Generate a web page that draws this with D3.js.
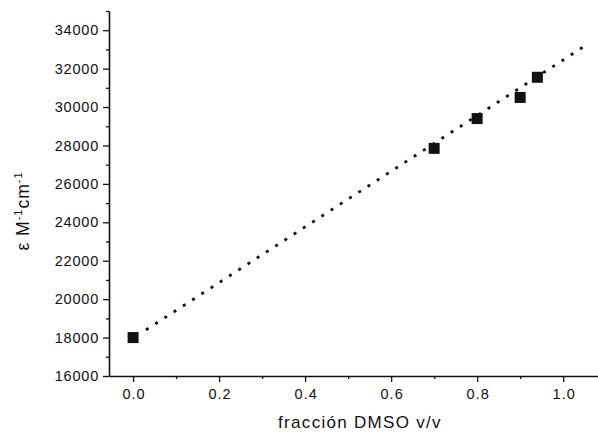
<!DOCTYPE html>
<html><head><meta charset="utf-8">
<script src="https://cdn.jsdelivr.net/npm/d3@7"></script>
<style>
html,body{margin:0;padding:0;background:#fff;}
text{font-family:"Liberation Sans",Arial,sans-serif;fill:#111;}
</style></head>
<body>
<script>
// Data
const fraction = [0.0, 0.7, 0.8, 0.9, 0.94];
const epsilon = [18000, 27850, 29400, 30500, 31550];
const fitX = [0.03, 1.055];
const fitY = [18400, 33250];
const xTicks = [0.0, 0.2, 0.4, 0.6, 0.8, 1.0];
const yTicks = [16000, 18000, 20000, 22000, 24000, 26000, 28000, 30000, 32000, 34000];
const xMinor = [0.1, 0.3, 0.5, 0.7, 0.9];
const yMinor = [17000, 19000, 21000, 23000, 25000, 27000, 29000, 31000, 33000, 35000];

const W = 598, H = 433;
const svg = d3.select("body").append("svg").attr("width", W).attr("height", H);

const x = d3.scaleLinear().domain([-0.056, 1.081]).range([109, 598]);
const y = d3.scaleLinear().domain([16000, 35000]).range([376, 11]);

// axes
const xAxis = d3.axisBottom(x).tickValues(xTicks).tickFormat(d3.format(".1f")).tickSize(6).tickSizeOuter(0).tickPadding(7);
const gx = svg.append("g").attr("transform", `translate(0,${y(16000)})`).call(xAxis);
gx.selectAll("text").style("font-size", "14.5px").style("letter-spacing", "1px").attr("dx", "0.5");
const gxm = svg.append("g").attr("transform", `translate(0,${y(16000)})`)
  .call(d3.axisBottom(x).tickValues(xMinor).tickFormat("").tickSize(3).tickSizeOuter(0));
gxm.select(".domain").remove();

const yAxis = d3.axisLeft(y).tickValues(yTicks).tickFormat(d3.format("d")).tickSize(6).tickSizeOuter(0).tickPadding(4);
const gy = svg.append("g").attr("transform", `translate(${x(x.domain()[0])},0)`).call(yAxis);
gy.selectAll("text").style("font-size", "14.5px").style("letter-spacing", "0.8px");
const gym = svg.append("g").attr("transform", `translate(${x(x.domain()[0])},0)`)
  .call(d3.axisLeft(y).tickValues(yMinor).tickFormat("").tickSize(3).tickSizeOuter(0));
gym.select(".domain").remove();

svg.selectAll(".domain").attr("stroke", "#111").attr("stroke-width", 1.6);
svg.selectAll(".tick line").attr("stroke", "#111").attr("stroke-width", 1.3);

// fit line (dotted)
svg.append("line")
  .attr("x1", x(fitX[0])).attr("y1", y(fitY[0]))
  .attr("x2", x(fitX[1])).attr("y2", y(fitY[1]))
  .attr("stroke", "#111").attr("stroke-width", 2.8)
  .attr("stroke-dasharray", "3,8");

// markers
const s = 11;
svg.selectAll("rect.pt").data(fraction).enter().append("rect")
  .attr("class", "pt")
  .attr("x", d => x(d) - s / 2)
  .attr("y", (d, i) => y(epsilon[i]) - s / 2)
  .attr("width", s).attr("height", s)
  .attr("fill", "#111");

// axis titles
svg.append("text").attr("x", 360).attr("y", 428)
  .attr("text-anchor", "middle").style("font-size", "17px").style("letter-spacing", "1.3px")
  .text("fracción DMSO v/v");

const yl = svg.append("text")
  .attr("transform", "translate(29,211) rotate(-90)")
  .attr("text-anchor", "middle").style("font-size", "17.5px").style("letter-spacing", "1px");
yl.append("tspan").text("ε M");
yl.append("tspan").attr("dy", -7).style("font-size", "11px").text("-1");
yl.append("tspan").attr("dy", 7).text("cm");
yl.append("tspan").attr("dy", -7).style("font-size", "11px").text("-1");
</script>
</body></html>
